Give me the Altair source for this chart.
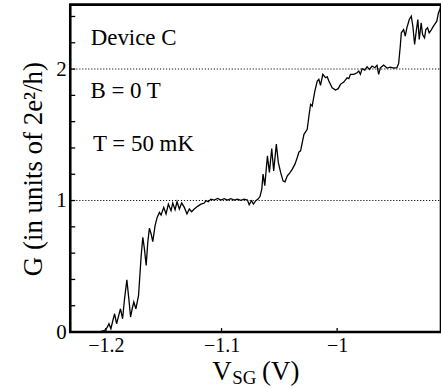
import altair as alt
import pandas as pd

# Conductance trace: gate voltage (V) and G (units of 2e^2/h)
v_sg = [-1.2070, -1.2055, -1.2040, -1.2011, -1.1989, -1.1974, -1.1957, -1.1940, -1.1925, -1.1908,
        -1.1891, -1.1874, -1.1856, -1.1839, -1.1819, -1.1802, -1.1787, -1.1773, -1.1759, -1.1741,
        -1.1718, -1.1695, -1.1681, -1.1667, -1.1652, -1.1638, -1.1624, -1.1609, -1.1595, -1.1575,
        -1.1557,
        -1.1537, -1.1523, -1.1500, -1.1480, -1.1460, -1.1437, -1.1422, -1.1402, -1.1385, -1.1365,
        -1.1345, -1.1322, -1.1299, -1.1279, -1.1259, -1.1236, -1.1207, -1.1178, -1.1149, -1.1135,
        -1.1115, -1.1092, -1.1063, -1.1034, -1.1006, -1.0977, -1.0948, -1.0920, -1.0891, -1.0862,
        -1.0833, -1.0805, -1.0776, -1.0761, -1.0741, -1.0724, -1.0704, -1.0684, -1.0667,
        -1.0652, -1.0641, -1.0626, -1.0603, -1.0586, -1.0566, -1.0549, -1.0526, -1.0509, -1.0489,
        -1.0468, -1.0451, -1.0431, -1.0411, -1.0388, -1.0365, -1.0345, -1.0330, -1.0316, -1.0302,
        -1.0287, -1.0273, -1.0259, -1.0244, -1.0230, -1.0216, -1.0193, -1.0172, -1.0158, -1.0144,
        -1.0124, -1.0101, -1.0086, -1.0072, -1.0043, -1.0014, -0.9991, -0.9971, -0.9943, -0.9914,
        -0.9899, -0.9885, -0.9856, -0.9828, -0.9813, -0.9799, -0.9784, -0.9761, -0.9741, -0.9721,
        -0.9698, -0.9675, -0.9655, -0.9641, -0.9626, -0.9598, -0.9569, -0.9540, -0.9511, -0.9483,
        -0.9468, -0.9454, -0.9445, -0.9425, -0.9411, -0.9397, -0.9376, -0.9359, -0.9345, -0.9330,
        -0.9316, -0.9302, -0.9290, -0.9273, -0.9261, -0.9244, -0.9233, -0.9218, -0.9204, -0.9187,
        -0.9167, -0.9152, -0.9138, -0.9124, -0.9106]
g_val = [0.000, 0.000, 0.005, 0.013, 0.035, 0.063, 0.025, 0.088, 0.139, 0.063,
         0.121, 0.177, 0.101, 0.253, 0.397, 0.253, 0.114, 0.177, 0.228, 0.177,
         0.278, 0.582, 0.721, 0.632, 0.506, 0.683, 0.789, 0.746, 0.688, 0.809,
         0.872,
         0.910, 0.890, 0.948, 0.898, 0.973, 0.923, 0.981, 0.930, 0.991, 0.936,
         0.981, 0.948, 0.898, 0.936, 0.915, 0.936, 0.956, 0.973, 0.981, 0.999,
         0.991, 1.011, 1.004, 1.016, 1.004, 1.014, 1.004, 1.014, 1.004, 1.011,
         1.001, 1.011, 1.004, 0.968, 0.999, 0.973, 0.999, 1.011, 1.032,
         1.087, 1.201, 1.113, 1.340, 1.214, 1.396, 1.226, 1.429, 1.290, 1.214,
         1.150, 1.143, 1.188, 1.209, 1.239, 1.277, 1.327, 1.370, 1.378, 1.441,
         1.504, 1.522, 1.542, 1.643, 1.732, 1.719, 1.833, 1.909, 1.922, 1.876,
         1.960, 1.934, 1.942, 1.909, 1.858, 1.841, 1.851, 1.884, 1.901, 1.934,
         1.927, 1.960, 1.960, 1.972, 1.985, 1.960, 2.003, 1.992, 2.018, 1.997,
         2.023, 2.010, 2.028, 1.960, 2.010, 2.030, 2.008, 2.015, 2.008, 2.010,
         2.043, 2.174, 2.276, 2.301, 2.250, 2.314, 2.377, 2.402, 2.326, 2.187,
         2.288, 2.377, 2.225, 2.351, 2.263, 2.238, 2.301, 2.314, 2.276, 2.296,
         2.326, 2.346, 2.364, 2.427, 2.465]

plateaus = [1, 2]
y_minor_ticks = [0.2, 0.4, 0.6, 0.8, 1.0, 1.2, 1.4, 1.6, 1.8, 2.0, 2.2, 2.4]
x_ticks = [-1.2, -1.1, -1.0]
y_labels = [0, 1, 2]

note_text = ["Device C", "B = 0 T", "T = 50 mK"]
note_v = [-1.2132, -1.2134, -1.2112]
note_g = [2.185, 1.781, 1.376]

W, H = 372, 328.5
FONT = "Liberation Serif"

xs = alt.Scale(domain=[-1.23086, -0.91017], nice=False, zero=False)
ys = alt.Scale(domain=[0, 2.49], nice=False, zero=False)

xaxis = alt.Axis(values=x_ticks, format=".1~f", title=None, ticks=False, domain=False, grid=False,
                 labelFont=FONT, labelFontSize=20, labelColor="black", labelPadding=4)
yaxis = alt.Axis(values=y_labels, format="d", title=None, ticks=False, domain=False, grid=False,
                 labelFont=FONT, labelFontSize=21, labelColor="black", labelPadding=4)

df = pd.DataFrame({"V": v_sg, "G": g_val, "i": list(range(len(v_sg)))})

curve = alt.Chart(df).mark_line(color="black", strokeWidth=1.3, clip=True).encode(
    x=alt.X("V:Q", scale=xs, axis=xaxis),
    y=alt.Y("G:Q", scale=ys, axis=yaxis),
    order="i:Q",
)

dotted = alt.Chart(pd.DataFrame({"G": plateaus})).mark_rule(
    color="#111", strokeDash=[1.2, 1.8], strokeWidth=1.1).encode(
    y=alt.Y("G:Q", scale=ys, axis=yaxis), x=alt.value(0), x2=alt.value(W))

yt = alt.Chart(pd.DataFrame({"G": y_minor_ticks})).mark_rule(
    color="black", strokeWidth=1.3).encode(
    y=alt.Y("G:Q", scale=ys, axis=yaxis), x=alt.value(0), x2=alt.value(5))

xt = alt.Chart(pd.DataFrame({"V": x_ticks})).mark_rule(
    color="black", strokeWidth=1.3).encode(
    x=alt.X("V:Q", scale=xs, axis=xaxis), y=alt.value(H), y2=alt.value(H - 4))

notes = alt.Chart(pd.DataFrame({"t": note_text, "V": note_v, "G": note_g})).mark_text(
    align="left", baseline="alphabetic", font=FONT, fontSize=23, color="black").encode(
    x=alt.X("V:Q", scale=xs, axis=xaxis), y=alt.Y("G:Q", scale=ys, axis=yaxis), text="t:N")

one = pd.DataFrame({"a": [0]})
ytitle = alt.Chart(one).mark_text(
    text="G (in units of 2e²/h)", angle=270, align="center", baseline="alphabetic",
    font=FONT, fontSize=27, color="black").encode(x=alt.value(-28.5), y=alt.value(165))
xt1 = alt.Chart(one).mark_text(text="V", align="left", baseline="alphabetic",
    font=FONT, fontSize=27, color="black").encode(x=alt.value(142.5), y=alt.value(377))
xt2 = alt.Chart(one).mark_text(text="SG", align="left", baseline="alphabetic",
    font=FONT, fontSize=19, color="black").encode(x=alt.value(162.5), y=alt.value(381))
xt3 = alt.Chart(one).mark_text(text="(V)", align="left", baseline="alphabetic",
    font=FONT, fontSize=27, color="black").encode(x=alt.value(192.5), y=alt.value(377))

chart = alt.layer(curve, dotted, yt, xt, notes, ytitle, xt1, xt2, xt3).properties(
    width=W, height=H,
    padding={"left": 70.5, "top": 4, "right": 0, "bottom": 56.5},
    autosize="none",
    background="white",
).configure_view(stroke="black", strokeWidth=2.6).configure_text(font=FONT)

chart.save("out.html", embed_options={"renderer": "svg", "actions": False})
